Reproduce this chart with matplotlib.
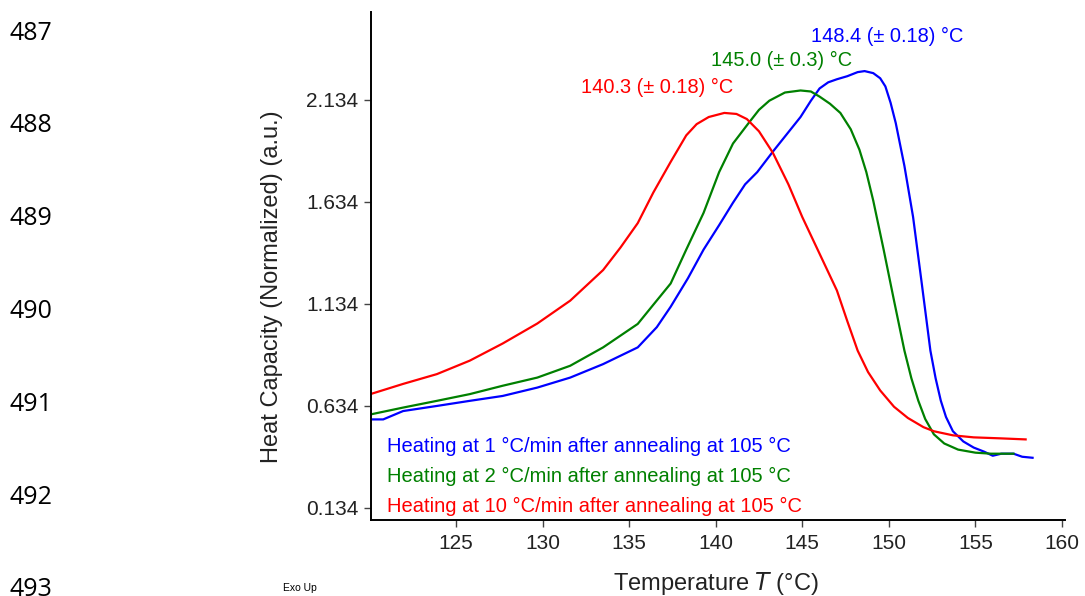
import matplotlib
matplotlib.use("Agg")
import matplotlib.pyplot as plt

plt.rcParams['font.family'] = ['Liberation Sans', 'DejaVu Sans']

# 1 °C/min
t_1 = [120.1, 120.8, 121.95, 123.9, 125.8, 127.7, 129.7, 131.6, 133.5, 135.5, 136.6,
       137.4, 138.4, 139.3, 140.2, 141.0, 141.7, 142.4, 143.3, 144.9, 145.5, 146.0,
       146.5, 147.0, 147.6, 148.2, 148.6, 149.1, 149.5, 149.8, 150.1, 150.4, 150.9,
       151.4, 151.9, 152.4, 152.7, 153.0, 153.3, 153.7, 154.3, 154.9, 155.5, 156.0,
       156.5, 157.2, 157.7, 158.3]
cp_1 = [0.568, 0.568, 0.609, 0.634, 0.659, 0.683, 0.724, 0.773, 0.839, 0.921, 1.02,
        1.12, 1.26, 1.40, 1.52, 1.63, 1.72, 1.78, 1.88, 2.05, 2.13, 2.19,
        2.22, 2.235, 2.25, 2.27, 2.275, 2.265, 2.24, 2.20, 2.12, 2.02, 1.81,
        1.56, 1.235, 0.905, 0.77, 0.66, 0.58, 0.51, 0.46, 0.43, 0.41, 0.39,
        0.40, 0.40, 0.385, 0.38]

# 2 °C/min
t_2 = [120.1, 121.95, 123.9, 125.8, 127.7, 129.7, 131.6, 133.5, 135.5, 136.4, 137.4,
       138.3, 139.3, 140.2, 141.0, 141.9, 142.5, 143.1, 144.0, 144.9, 145.5, 146.0,
       146.6, 147.2, 147.8, 148.3, 148.7, 149.1, 149.7, 150.3, 150.9, 151.3, 151.7,
       152.1, 152.6, 153.2, 154.0, 155.0, 155.9, 157.2]
cp_2 = [0.593, 0.626, 0.659, 0.692, 0.733, 0.773, 0.831, 0.921, 1.036, 1.13, 1.234,
        1.40, 1.58, 1.78, 1.92, 2.02, 2.085, 2.13, 2.17, 2.18, 2.175, 2.15,
        2.115, 2.07, 1.99, 1.89, 1.78, 1.64, 1.40, 1.15, 0.905, 0.77, 0.66,
        0.57, 0.495, 0.45, 0.42, 0.405, 0.40, 0.40]

# 10 °C/min
t_10 = [120.1, 121.95, 123.9, 125.8, 127.7, 129.7, 131.6, 133.5, 134.5, 135.5, 136.4,
        137.4, 138.3, 138.9, 139.6, 140.5, 141.2, 141.8, 142.5, 143.3, 144.2, 145.0,
        146.0, 147.0, 147.6, 148.2, 148.8, 149.5, 150.3, 151.1, 152.0, 152.6, 153.7,
        154.9, 156.5, 157.9]
cp_10 = [0.693, 0.742, 0.79, 0.856, 0.94, 1.038, 1.15, 1.30, 1.41, 1.53, 1.68,
         1.83, 1.96, 2.015, 2.05, 2.07, 2.065, 2.04, 1.98, 1.875, 1.72, 1.56,
         1.38, 1.20, 1.05, 0.905, 0.80, 0.71, 0.63, 0.575, 0.53, 0.51, 0.49,
         0.48, 0.475, 0.47]

legend_labels = ["Heating at 1 °C/min after annealing at 105 °C",
                 "Heating at 2 °C/min after annealing at 105 °C",
                 "Heating at 10 °C/min after annealing at 105 °C"]
peak_labels = ["148.4 (± 0.18) °C", "145.0 (± 0.3) °C", "140.3 (± 0.18) °C"]
yticks = [0.134, 0.634, 1.134, 1.634, 2.134]
xticks = [125, 130, 135, 140, 145, 150, 155, 160]
line_numbers = ["487", "488", "489", "490", "491", "492", "493"]

blue, green, red = "#0000ff", "#008000", "#ff0000"

fig = plt.figure(figsize=(10.85, 5.96), dpi=100)
ax = fig.add_axes([0.342, 0.1275, 0.640, 0.8525])

ax.plot(t_1, cp_1, color=blue, lw=1.6)
ax.plot(t_2, cp_2, color=green, lw=1.6)
ax.plot(t_10, cp_10, color=red, lw=1.6)

ax.set_xlim(120.1, 160.2)
ax.set_ylim(0.075, 2.565)
ax.set_xticks(xticks)
ax.set_yticks(yticks)
ax.set_yticklabels([f"{v:.3f}" for v in yticks])
ax.tick_params(labelsize=15, length=5, width=1, direction='out', color='#444444',
               labelcolor='#222222')
ax.tick_params(axis='x', pad=5)
ax.tick_params(axis='y', pad=4)
for s in ['top', 'right']:
    ax.spines[s].set_visible(False)
for s in ['left', 'bottom']:
    ax.spines[s].set_linewidth(1.4)

ax.set_ylabel("Heat Capacity (Normalized) (a.u.)", fontsize=17, color='#222222')
ax.yaxis.set_label_coords(-0.143, 0.46)
ax.yaxis.label.set_va('center')
ax.set_xlabel("Temperature $\\mathit{T}$ (°C)", fontsize=17, color='#222222')
ax.xaxis.set_label_coords(0.497, -0.124)
ax.xaxis.label.set_va('center')

# legend-like coloured text
for i, (lab, c) in enumerate(zip(legend_labels, [blue, green, red])):
    ax.text(0.023, 0.145 - i * 0.059, lab, color=c, fontsize=14.5,
            transform=ax.transAxes, va='center', ha='left')

# peak labels
ax.text(149.9, 2.443, peak_labels[0], color=blue, fontsize=14.4, ha='center', va='center')
ax.text(143.8, 2.325, peak_labels[1], color=green, fontsize=14.4, ha='center', va='center')
ax.text(136.6, 2.193, peak_labels[2], color=red, fontsize=14.4, ha='center', va='center')

fig.text(0.261, 0.013, "Exo Up", fontsize=7.5, ha='left', va='center')

# manuscript line numbers
for i, n in enumerate(line_numbers):
    fig.text(0.009, 1 - (33 + i * 92.8) / 596, n, fontsize=18, family='Open Sans',
             ha='left', va='center')

fig.savefig("out.png", dpi=100)
